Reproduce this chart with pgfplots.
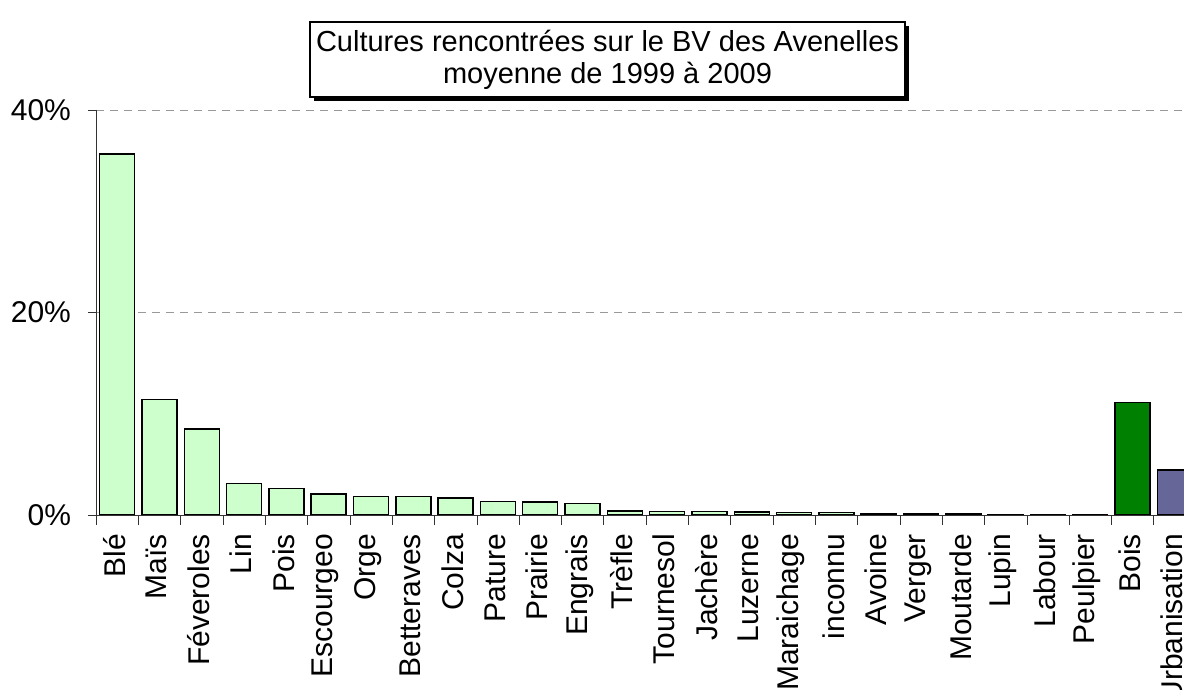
\documentclass[border=0pt]{standalone}
\usepackage{pgfplots}
\pgfplotsset{compat=1.18}
\usepackage{fontspec}
\setmainfont{Liberation Sans}
\usetikzlibrary{shadows}
\definecolor{vertclair}{HTML}{CCFFCC}
\definecolor{vertfonce}{HTML}{008000}
\definecolor{bleugris}{HTML}{666699}

\begin{document}
\begin{tikzpicture}
\useasboundingbox (-48pt,-87.5pt) rectangle (544pt,257.5pt);
\clip (-48pt,-87.5pt) rectangle (544pt,257.5pt);
\begin{axis}[
    at={(0,0)}, anchor=south west,
    scale only axis, width=550pt, height=202.5pt,
    xmin=-0.5, xmax=25.5, ymin=0, ymax=40,
    axis x line*=bottom, axis y line*=left,
    axis line style={black!80},
    ytick={0,20,40}, yticklabels={0\%,20\%,40\%},
    ymajorgrids, grid style={gray!80, dash pattern=on 4pt off 3pt},
    xtick={0,...,25},
    xticklabels={Blé,Maïs,Féveroles,Lin,Pois,Escourgeo,Orge,Betteraves,Colza,Pature,Prairie,Engrais,Trèfle,Tournesol,Jachère,Luzerne,Maraichage,inconnu,Avoine,Verger,Moutarde,Lupin,Labour,Peulpier,Bois,Urbanisation},
    minor xtick={-0.5,0.5,...,25.5},
    tick align=outside,
    major x tick style={draw=none},
    minor tick length=5pt, major tick length=4pt,
    tick style={black!80},
    ticklabel style={font=\fontsize{15}{18}\selectfont},
    xticklabel style={yshift=-2pt, xshift=-1.5pt, rotate=90, anchor=east},
    yticklabel style={xshift=-5pt},
    ybar, bar width=17.5pt,
]
\addplot[ybar, bar shift=0pt, fill=vertclair, draw=black, line width=0.75pt] coordinates {
(0,35.65) (1,11.39) (2,8.49) (3,3.09) (4,2.60) (5,2.07) (6,1.84) (7,1.81)
(8,1.68) (9,1.31) (10,1.28) (11,1.12) (12,0.40) (13,0.36) (14,0.36) (15,0.30)
(16,0.27) (17,0.23) (18,0.17) (19,0.10) (20,0.08) (21,0.06) (22,0.02) (23,0.01)};
\addplot[ybar, bar shift=0pt, fill=vertfonce, draw=black, line width=0.75pt] coordinates {(24,11.09)};
\addplot[ybar, bar shift=0pt, fill=bleugris, draw=black, line width=0.75pt] coordinates {(25,4.44)};
\end{axis}
\node[draw=black, line width=0.6pt, fill=white,
      drop shadow={shadow xshift=2pt, shadow yshift=-2pt, opacity=1, fill=black},
      align=center, minimum width=297.5pt, minimum height=37.5pt, inner sep=1pt,
      font=\fontsize{14.5}{16}\selectfont]
  at (255.75pt,227.75pt) {Cultures rencontrées sur le BV des Avenelles\\moyenne de 1999 à 2009};
\end{tikzpicture}
\end{document}
